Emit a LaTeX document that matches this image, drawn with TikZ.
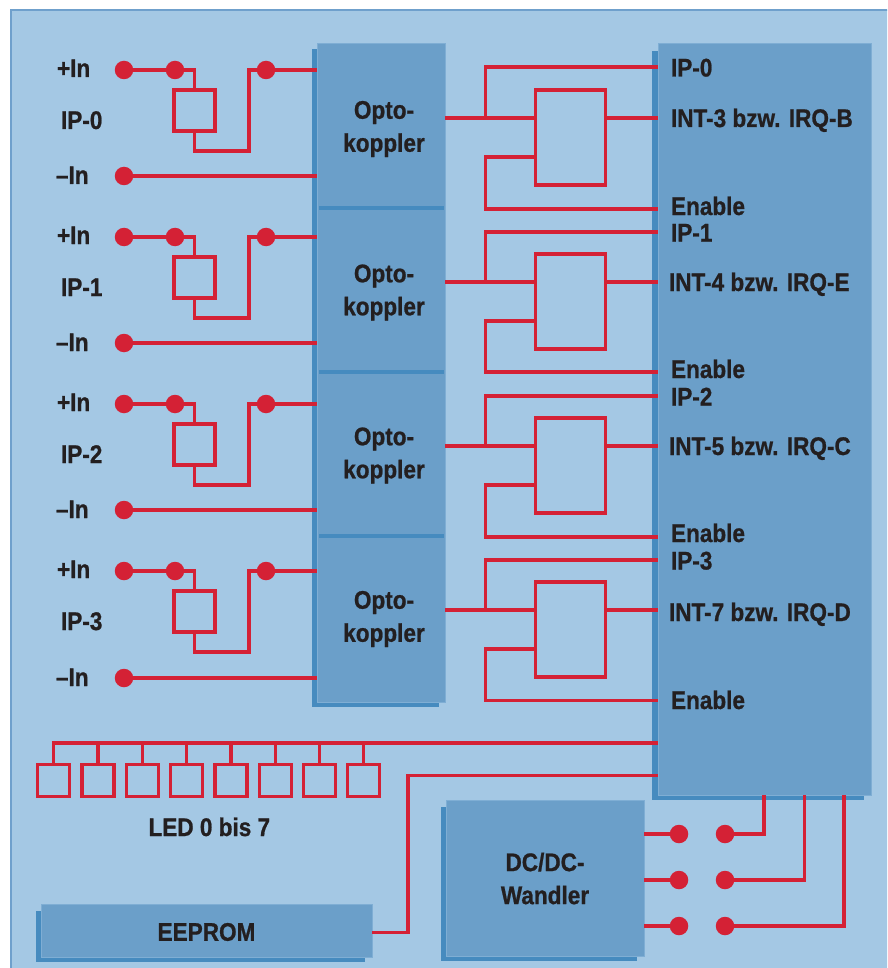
\documentclass[tikz,border=0pt]{standalone}
\usepackage{fontspec}
\newfontfamily\labfont{Liberation Sans}[FakeStretch=0.885,BoldFeatures={FakeBold=0.8}]
\definecolor{panel}{HTML}{A4C8E4}
\definecolor{panelb}{HTML}{6FA0CC}
\definecolor{blockc}{HTML}{6B9FC9}
\definecolor{blocke}{HTML}{7FAED4}
\definecolor{shadowc}{HTML}{468BBF}
\definecolor{wirec}{HTML}{D42135}
\definecolor{ink}{HTML}{231F20}
\tikzset{
  x=1pt,y=-1pt,
  wire/.style={draw=wirec,line width=3.2pt,line cap=butt,line join=miter},
  dot/.style={circle,fill=wirec,draw=none,inner sep=0pt,outer sep=0pt,minimum size=18.5pt},
  boxr/.style={rectangle,draw=wirec,line width=3.2pt,fill=none,inner sep=0pt,outer sep=0pt},
  block/.style={rectangle,fill=blockc,draw=blocke,line width=0.8pt,inner sep=0pt,outer sep=0pt,anchor=north west},
  shadowb/.style={rectangle,fill=shadowc,draw=none,inner sep=0pt,outer sep=0pt,anchor=north west},
  lbl/.style={inner sep=0pt,outer sep=0pt,text=ink,font=\labfont\bfseries\fontsize{25.5}{33}\selectfont},
  lw/.style={lbl,anchor=base west},
  lc/.style={lbl,anchor=center,align=center},
}
\begin{document}
\begin{tikzpicture}
\useasboundingbox (0,0) rectangle (887,968);
\clip (0,0) rectangle (887,968);
\fill[white] (0,0) rectangle (887,968);
\filldraw[fill=panel,draw=panelb,line width=2pt] (10.5,10) rectangle (900,985);

% shadows
\node[shadowb,minimum width=127pt,minimum height=658pt] (optoS) at (312,49) {};
\node[shadowb,minimum width=212pt,minimum height=749pt] (mainS) at (652,51) {};
\node[shadowb,minimum width=196pt,minimum height=154pt] (dcS) at (441,807) {};
\node[shadowb,minimum width=329pt,minimum height=51pt] (eeS) at (36,911) {};

% optocoupler column and right block
\node[block,minimum width=128pt,minimum height=659pt] (opto) at (317,43) {};
\node[block,minimum width=213pt,minimum height=752pt] (main) at (658,43) {};
\draw[shadowc,line width=4pt] (319,208) -- (444,208);
\draw[shadowc,line width=4pt] (319,372) -- (444,372);
\draw[shadowc,line width=4pt] (319,536) -- (444,536);

\node[lc] (o0) at (384,129) {Opto-\\koppler};
\node[lc] (o1) at (384,292.5) {Opto-\\koppler};
\node[lc] (o2) at (384,455.5) {Opto-\\koppler};
\node[lc] (o3) at (384,619) {Opto-\\koppler};

% left input groups
\foreach \g/\ya/\yb/\yc in {0/70/176/129, 1/237/343/296, 2/404/510/463, 3/571/678/630}{
  \pgfmathsetmacro{\yr}{\ya+40.5}
  \pgfmathsetmacro{\yt}{\ya+81}
  \pgfmathsetmacro{\ybp}{\ya+7}
  \pgfmathsetmacro{\ybm}{\yb+8}
  \node[lw] (plus\g) at (57,\ybp) {+In};
  \node[lw] (ip\g) at (61,\yc) {IP-\g};
  \node[lw] (minus\g) at (56,\ybm) {–In};
  \node[dot] (da\g) at (124,\ya) {};
  \node[dot] (db\g) at (175,\ya) {};
  \node[dot] (dc\g) at (266,\ya) {};
  \node[dot] (dm\g) at (124,\yb) {};
  \node[boxr,minimum width=41pt,minimum height=41pt] (res\g) at (194.5,\yr) {};
  \coordinate (tu\g) at (249,\yt);
  \coordinate (op\g) at (317,\ya);
  \coordinate (om\g) at (317,\yb);
  \draw[wire] (da\g) -- (db\g);
  \draw[wire] (db\g.center) -| (res\g.north);
  \draw[wire] (res\g.south) |- (tu\g) |- (dc\g.center);
  \draw[wire] (dc\g) -- (op\g);
  \draw[wire] (dm\g) -- (om\g);
}

% right gate groups
\foreach \g/\yi/\ym/\yn/\yt/\yb/\ye/\yl/\ntxt/\ly/\lx in {
  0/67/118/157/90/185/209/215/INT-3 bzw. IRQ-B/127/671,
  1/232/282/321/254/349/372/378/INT-4 bzw. IRQ-E/291/669,
  2/396/446/485/418/513/537/542/INT-5 bzw. IRQ-C/455/669,
  3/560/610/649/582/677/700.5/709/INT-7 bzw. IRQ-D/621/669}{
  \pgfmathsetmacro{\yc}{(\yt+\yb)/2}
  \pgfmathsetmacro{\yip}{\yi+9.5}
  \node[lw] (tip\g) at (671,\yip) {IP-\g};
  \node[lw] (tint\g) at (\lx,\ly) {\ntxt};
  \node[lw] (ten\g) at (671,\yl) {Enable};
  \node[boxr,minimum width=70.5pt,minimum height=95pt] (gate\g) at (570.5,\yc) {};
  \coordinate (ai\g) at (445,\ym);
  \coordinate (bi\g) at (485.5,\ym);
  \coordinate (gi\g) at (534.5,\ym);
  \coordinate (gn\g) at (534.5,\yn);
  \coordinate (go\g) at (658,\ym);
  \coordinate (mi\g) at (658,\yi);
  \coordinate (me\g) at (658,\ye);
  \draw[wire] (ai\g) -- (gi\g);
  \draw[wire] (bi\g) |- (mi\g);
  \draw[wire] (gi\g -| gate\g.east) -- (go\g);
  \draw[wire] (gn\g) -| (485.5,\ye) -- (me\g);
}

% LEDs
\coordinate (busL) at (53.5,743);
\coordinate (busR) at (658,743);
\draw[wire] (busR) -- (busL);
\foreach \i in {0,...,7}{
  \pgfmathsetmacro{\xl}{53.7+44.3*\i}
  \node[boxr,minimum width=32pt,minimum height=32.5pt] (led\i) at (\xl,780.5) {};
  \coordinate (st\i) at (led\i.north |- busL);
  \draw[wire] (led\i.north) -- (st\i);
}
\draw[wire] (busL) ++(-1.6,0) -- (busL);
\node[lw] (ledt) at (148.5,836) {LED 0 bis 7};

% EEPROM
\node[block,minimum width=331pt,minimum height=53pt] (ee) at (41,904.5) {};
\node[lc] (eet) at (206.5,932) {EEPROM};
\coordinate (eeK) at (408,932.5);
\coordinate (eeM) at (658,775.5);
\draw[wire] (ee.east |- eeK) -- (eeK) |- (eeM);

% DC/DC
\node[block,minimum width=198pt,minimum height=156pt] (dcb) at (446,800.5) {};
\node[lc] (dct) at (545,878.5) {DC/DC-\\Wandler};
\foreach \k/\yy/\xv in {0/834/764,1/880/804.5,2/926/844}{
  \node[dot] (dl\k) at (679,\yy) {};
  \node[dot] (dr\k) at (725,\yy) {};
  \coordinate (ds\k) at (644,\yy);
  \coordinate (mb\k) at (\xv,795);
  \draw[wire] (ds\k) -- (dl\k);
  \draw[wire] (dr\k.center) -| (mb\k);
}
\end{tikzpicture}
\end{document}
